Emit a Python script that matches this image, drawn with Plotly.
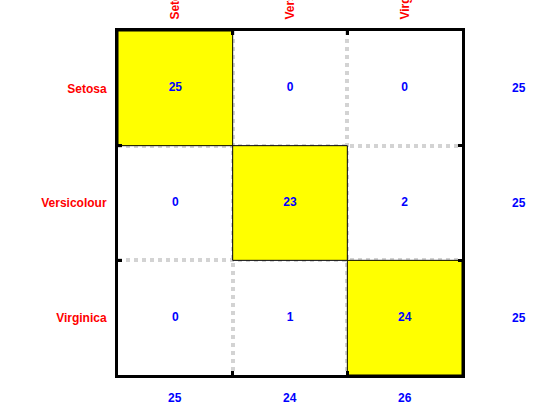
import plotly.graph_objects as go

classes = ["Setosa", "Versicolour", "Virginica"]
matrix = [[25, 0, 0],
          [0, 23, 2],
          [0, 1, 24]]
row_totals = [25, 25, 25]
col_totals = [25, 24, 26]

n = len(classes)
diag = [[1 if i == j else 0 for j in range(n)] for i in range(n)]
FONT = "Liberation Sans, Arial, sans-serif"
blue_font = dict(color="blue", size=12, family=FONT, weight="bold")

fig = go.Figure()
fig.add_trace(go.Heatmap(
    z=diag, x=list(range(n)), y=list(range(n)),
    colorscale=[[0, "rgba(0,0,0,0)"], [1, "yellow"]],
    showscale=False, hoverinfo="skip", zmin=0, zmax=1,
))

# cell values
xs, ys, ts = [], [], []
for i in range(n):
    for j in range(n):
        xs.append(j); ys.append(i); ts.append(str(matrix[i][j]))
fig.add_trace(go.Scatter(x=xs, y=ys, text=ts, mode="text", textfont=blue_font,
                         hoverinfo="skip", cliponaxis=False))


def xpaper(x):
    return (x + 0.5) / n


def ypaper(y):  # y axis reversed
    return 1 - (y + 0.5) / n


# row totals (right of the matrix) and column totals (below)
for i, v in enumerate(row_totals):
    fig.add_annotation(x=xpaper(n), y=ypaper(i), xref="paper", yref="paper", text=str(v),
                       showarrow=False, font=blue_font, xanchor="center", yanchor="middle")
for j, v in enumerate(col_totals):
    fig.add_annotation(x=xpaper(j), y=ypaper(n - 0.3), xref="paper", yref="paper", text=str(v),
                       showarrow=False, font=blue_font, xanchor="center", yanchor="middle")

# borders of diagonal cells
for i in range(n):
    fig.add_shape(type="rect", xref="x", yref="y", x0=i - 0.5, x1=i + 0.5, y0=i - 0.5, y1=i + 0.5,
                  line=dict(color="black", width=1), fillcolor="rgba(0,0,0,0)", layer="above")

bounds = [k + 0.5 for k in range(n - 1)]
minor = dict(tickvals=bounds, showgrid=True, griddash="dot", gridcolor="#d3d3d3", gridwidth=4,
             ticks="inside", ticklen=4, tickwidth=3, tickcolor="black")

fig.update_layout(
    width=560, height=420,
    margin=dict(l=118, r=98, t=31, b=45),
    plot_bgcolor="white", paper_bgcolor="white",
    showlegend=False,
    xaxis=dict(range=[-0.5, n - 0.5], side="top", tickvals=list(range(n)), ticktext=classes,
               tickangle=-90, ticks="", showgrid=False, zeroline=False,
               showline=True, linecolor="black", linewidth=3, mirror="allticks",
               tickfont=dict(color="red", size=12, family=FONT, weight="bold"),
               ticklabelstandoff=6, automargin=False, minor=minor, fixedrange=True),
    yaxis=dict(range=[n - 0.5, -0.5], tickvals=list(range(n)), ticktext=classes,
               ticks="", showgrid=False, zeroline=False,
               showline=True, linecolor="black", linewidth=3, mirror="allticks",
               tickfont=dict(color="red", size=12, family=FONT, weight="bold"),
               ticklabelstandoff=6, automargin=False, minor=minor, fixedrange=True),
)

fig.write_html("out.html")
